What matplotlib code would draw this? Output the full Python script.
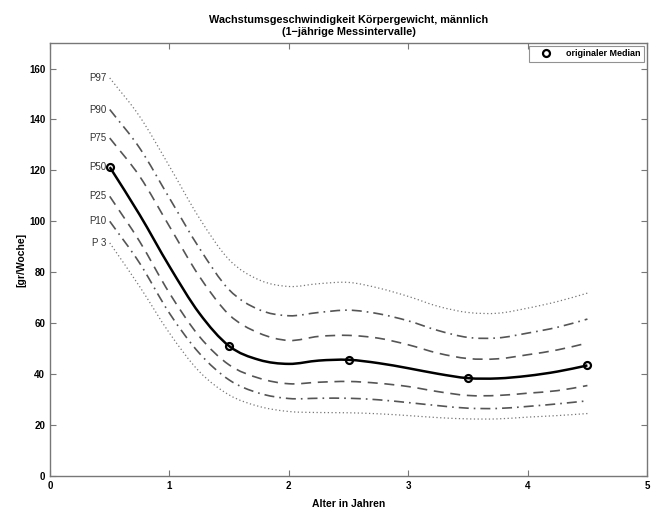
import matplotlib
matplotlib.use("Agg")
import matplotlib.pyplot as plt
from matplotlib.path import Path
from matplotlib.patches import PathPatch

plt.rcParams['font.family'] = ['Liberation Sans', 'DejaVu Sans']

# age in years (at quarter-year steps)
alter = [0.5, 0.75, 1.0, 1.25, 1.5, 1.75, 2.0, 2.25, 2.5, 2.75,
         3.0, 3.25, 3.5, 3.75, 4.0, 4.25, 4.5]

p97 = [156.3, 141.2, 121.6, 101.3, 84.9, 77.0, 74.4, 75.5, 76.0, 73.8,
       70.5, 66.6, 64.2, 63.9, 65.9, 68.5, 71.8]
p90 = [143.9, 128.8, 109.1, 89.5, 73.1, 65.3, 62.9, 64.2, 65.1, 63.7,
       60.9, 57.1, 54.4, 54.2, 56.1, 58.4, 61.6]
p75 = [132.7, 117.7, 98.0, 78.4, 63.3, 56.1, 53.2, 54.8, 55.2, 54.1,
       51.5, 48.2, 46.1, 46.0, 47.6, 49.5, 52.2]
p50 = [121.3, 102.6, 82.3, 63.9, 51.0, 45.6, 44.0, 45.3, 45.6, 44.3,
       42.3, 40.1, 38.4, 38.3, 39.3, 41.0, 43.4]
p25 = [109.8, 92.1, 71.8, 54.8, 43.6, 38.4, 36.2, 36.8, 37.1, 36.4,
       35.1, 33.1, 31.6, 31.6, 32.5, 33.5, 35.5]
p10 = [100.0, 83.6, 63.9, 48.2, 37.7, 32.5, 30.4, 30.5, 30.5, 29.9,
       28.8, 27.6, 26.6, 26.5, 27.3, 28.3, 29.5]
p3 = [91.5, 74.4, 56.1, 41.0, 31.8, 27.3, 25.3, 24.9, 24.8, 24.4,
      23.7, 22.9, 22.4, 22.4, 23.1, 23.7, 24.5]

# original medians at the measurement points
median_x = [0.5, 1.5, 2.5, 3.5, 4.5]
median_y = [121.3, 51.0, 45.6, 38.4, 43.4]

labels = ["P97", "P90", "P75", "P50", "P25", "P10", "P 3"]


def smooth_path(xs, ys):
    # cubic bezier segments through the read points (catmull-rom tangents)
    verts = [(xs[0], ys[0])]
    codes = [Path.MOVETO]
    n = len(xs)
    for i in range(n - 1):
        x1, y1 = xs[i], ys[i]
        x2, y2 = xs[i + 1], ys[i + 1]
        if i > 0:
            x0, y0 = xs[i - 1], ys[i - 1]
        else:
            x0, y0 = 2 * x1 - x2, 2 * y1 - y2
        if i + 2 < n:
            x3, y3 = xs[i + 2], ys[i + 2]
        else:
            x3, y3 = 2 * x2 - x1, 2 * y2 - y1
        c1 = (x1 + (x2 - x0) / 6, y1 + (y2 - y0) / 6)
        c2 = (x2 - (x3 - x1) / 6, y2 - (y3 - y1) / 6)
        verts += [c1, c2, (x2, y2)]
        codes += [Path.CURVE4] * 3
    return Path(verts, codes)


grey = "#555555"
fig = plt.figure(figsize=(6.54, 5.19), dpi=100)
ax = fig.add_axes([0.0765, 0.083, 0.913, 0.834])

curves = [p97, p90, p75, p50, p25, p10, p3]
dotted = (0, (1, 2))
dashdot = (0, (6, 3, 1, 3))
dashed = (0, (6, 4))
styles = [dotted, dashdot, dashed, "-", dashed, dashdot, dotted]

for vals, ls, lab in zip(curves, styles, labels):
    if lab == "P50":
        col, lw = "black", 1.8
    elif ls == dotted:
        col, lw = "#777777", 0.9
    else:
        col, lw = grey, 1.2
    ax.add_patch(PathPatch(smooth_path(alter, vals), fill=False,
                           edgecolor=col, lw=lw, ls=ls))
    ax.text(0.47, vals[0], lab, ha="right", va="center", fontsize=7,
            color="#333333")

ax.plot(median_x, median_y, "o", mfc="none", mec="black", mew=1.6, ms=5,
        label="originaler Median")

ax.set_xlim(0, 5)
ax.set_ylim(0, 170)
ax.set_xticks([0, 1, 2, 3, 4, 5])
ax.set_yticks(range(0, 161, 20))
ax.tick_params(direction="in", top=True, right=True, length=4,
               labelsize=7, color="#777777", width=0.8)
for lbl in ax.get_xticklabels() + ax.get_yticklabels():
    lbl.set_fontweight("bold")
for sp in ax.spines.values():
    sp.set_color("#777777")
    sp.set_linewidth(1.0)

ax.set_title("Wachstumsgeschwindigkeit Körpergewicht, männlich\n(1\u2212jährige Messintervalle)",
             fontsize=7.8, fontweight="bold", pad=6)
ax.set_xlabel("Alter in Jahren", fontsize=7.5, fontweight="bold", labelpad=6)
ax.set_ylabel("[gr/Woche]", fontsize=7.5, fontweight="bold", labelpad=2)

leg = ax.legend(loc="upper right", fontsize=6.5, frameon=True, fancybox=False,
                borderpad=0.35, handletextpad=0.8, borderaxespad=0.35,
                handlelength=3.0)
leg.get_frame().set_edgecolor("#777777")
leg.get_frame().set_linewidth(0.8)
for t in leg.get_texts():
    t.set_fontweight("bold")

fig.savefig("out.png", dpi=100)
